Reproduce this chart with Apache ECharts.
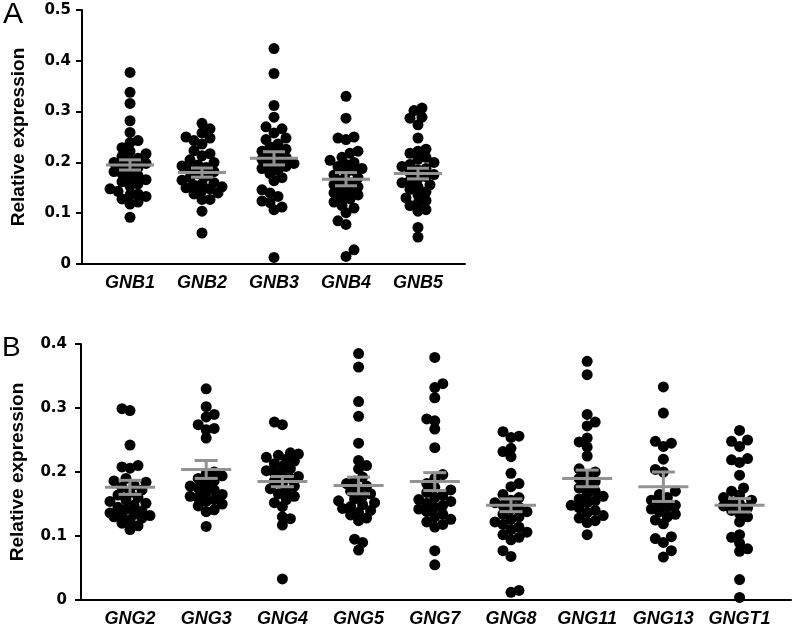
<!DOCTYPE html>
<html><head><meta charset="utf-8">
<script src="https://cdn.jsdelivr.net/npm/echarts@6/dist/echarts.min.js"></script>
<style>html,body{margin:0;padding:0;background:#fff}#c{width:794px;height:629px}</style>
</head><body><div id="c"></div>
<script>
// ---------- Panel A data ----------
const categoriesA = ['GNB1', 'GNB2', 'GNB3', 'GNB4', 'GNB5'];
const gnb1 = [0.377, 0.338, 0.316, 0.282, 0.259, 0.243, 0.239, 0.229, 0.222, 0.217, 0.212, 0.208, 0.205, 0.2, 0.198, 0.194, 0.19, 0.186, 0.182, 0.178, 0.174, 0.17, 0.166, 0.162, 0.158, 0.153, 0.148, 0.143, 0.138, 0.136, 0.133, 0.128, 0.122, 0.118, 0.092];
const gnb2 = [0.277, 0.266, 0.258, 0.25, 0.248, 0.243, 0.236, 0.223, 0.217, 0.213, 0.205, 0.2, 0.195, 0.193, 0.19, 0.186, 0.182, 0.178, 0.173, 0.17, 0.165, 0.16, 0.158, 0.155, 0.152, 0.15, 0.148, 0.145, 0.14, 0.138, 0.127, 0.127, 0.104, 0.061];
const gnb3 = [0.424, 0.375, 0.312, 0.289, 0.27, 0.266, 0.258, 0.248, 0.245, 0.236, 0.231, 0.226, 0.222, 0.218, 0.214, 0.21, 0.206, 0.202, 0.198, 0.195, 0.192, 0.188, 0.184, 0.178, 0.17, 0.164, 0.146, 0.14, 0.133, 0.124, 0.121, 0.112, 0.107, 0.013];
const gnb4 = [0.33, 0.287, 0.25, 0.248, 0.245, 0.222, 0.218, 0.21, 0.204, 0.2, 0.196, 0.192, 0.188, 0.184, 0.18, 0.175, 0.17, 0.165, 0.16, 0.156, 0.152, 0.148, 0.144, 0.14, 0.136, 0.132, 0.128, 0.122, 0.115, 0.11, 0.101, 0.085, 0.078, 0.028, 0.015];
const gnb5 = [0.307, 0.302, 0.289, 0.287, 0.274, 0.248, 0.226, 0.222, 0.218, 0.21, 0.206, 0.2, 0.196, 0.192, 0.188, 0.185, 0.18, 0.176, 0.172, 0.168, 0.164, 0.16, 0.156, 0.152, 0.147, 0.142, 0.136, 0.13, 0.125, 0.12, 0.115, 0.107, 0.104, 0.072, 0.053];
const meanA = [0.195, 0.180, 0.208, 0.167, 0.178];
const semA = [0.010, 0.009, 0.013, 0.013, 0.0105];
const yMaxA = 0.5;

// ---------- Panel B data ----------
const categoriesB = ['GNG2', 'GNG3', 'GNG4', 'GNG5', 'GNG7', 'GNG8', 'GNG11', 'GNG13', 'GNGT1'];
const gng2 = [0.299, 0.296, 0.242, 0.21, 0.208, 0.206, 0.19, 0.186, 0.184, 0.18, 0.176, 0.172, 0.168, 0.164, 0.16, 0.157, 0.154, 0.151, 0.148, 0.145, 0.142, 0.139, 0.136, 0.134, 0.133, 0.132, 0.13, 0.128, 0.125, 0.12, 0.116, 0.11];
const gng3 = [0.33, 0.302, 0.29, 0.286, 0.274, 0.268, 0.266, 0.253, 0.2, 0.197, 0.194, 0.19, 0.186, 0.182, 0.178, 0.175, 0.172, 0.168, 0.165, 0.162, 0.16, 0.157, 0.154, 0.15, 0.147, 0.141, 0.138, 0.115];
const gng4 = [0.278, 0.274, 0.23, 0.228, 0.226, 0.223, 0.22, 0.217, 0.213, 0.209, 0.205, 0.202, 0.199, 0.196, 0.193, 0.19, 0.186, 0.182, 0.178, 0.174, 0.17, 0.166, 0.162, 0.157, 0.152, 0.146, 0.13, 0.127, 0.117, 0.033];
const gng5 = [0.385, 0.364, 0.31, 0.287, 0.245, 0.218, 0.21, 0.205, 0.192, 0.186, 0.182, 0.178, 0.174, 0.17, 0.166, 0.162, 0.158, 0.155, 0.152, 0.149, 0.146, 0.143, 0.14, 0.137, 0.133, 0.128, 0.124, 0.095, 0.09, 0.078];
const gng7 = [0.379, 0.338, 0.332, 0.316, 0.283, 0.28, 0.267, 0.238, 0.196, 0.19, 0.182, 0.176, 0.172, 0.168, 0.164, 0.16, 0.157, 0.154, 0.151, 0.148, 0.145, 0.142, 0.138, 0.134, 0.13, 0.126, 0.122, 0.118, 0.114, 0.077, 0.055];
const gng8 = [0.263, 0.256, 0.254, 0.237, 0.232, 0.224, 0.198, 0.182, 0.177, 0.165, 0.16, 0.156, 0.152, 0.148, 0.145, 0.142, 0.138, 0.134, 0.13, 0.126, 0.122, 0.118, 0.114, 0.11, 0.106, 0.102, 0.098, 0.094, 0.077, 0.068, 0.015, 0.012];
const gng11 = [0.373, 0.352, 0.29, 0.278, 0.272, 0.253, 0.247, 0.239, 0.225, 0.205, 0.2, 0.196, 0.19, 0.185, 0.18, 0.175, 0.17, 0.166, 0.162, 0.158, 0.155, 0.152, 0.148, 0.144, 0.14, 0.136, 0.132, 0.128, 0.124, 0.121, 0.102];
const gng13 = [0.333, 0.292, 0.248, 0.245, 0.24, 0.22, 0.204, 0.2, 0.17, 0.165, 0.16, 0.156, 0.152, 0.148, 0.145, 0.142, 0.138, 0.134, 0.13, 0.125, 0.119, 0.099, 0.096, 0.09, 0.077, 0.067];
const gngt1 = [0.265, 0.25, 0.248, 0.24, 0.221, 0.219, 0.215, 0.195, 0.175, 0.17, 0.164, 0.16, 0.156, 0.153, 0.15, 0.147, 0.144, 0.14, 0.135, 0.13, 0.122, 0.102, 0.098, 0.089, 0.08, 0.076, 0.032, 0.004];
const meanB = [0.176, 0.204, 0.185, 0.179, 0.185, 0.148, 0.190, 0.177, 0.148];
const semB = [0.011, 0.014, 0.008, 0.013, 0.014, 0.010, 0.013, 0.023, 0.0105];
const yMaxB = 0.4;

const valuesA = [gnb1, gnb2, gnb3, gnb4, gnb5];
const valuesB = [gng2, gng3, gng4, gng5, gng7, gng8, gng11, gng13, gngt1];

// ---------- chart ----------
const chart = echarts.init(document.getElementById('c'), null, {renderer: 'canvas'});
const LBL = 'Liberation Sans, Arial, sans-serif';
const TICK = 'DejaVu Sans, sans-serif';

function xAxisDef(gridIndex, cats, min, max, margin) {
  return {
    type: 'value', gridIndex, min, max,
    axisLine: {show: true, onZero: false, lineStyle: {color: '#000', width: 2}},
    axisTick: {show: false},
    splitLine: {show: false},
    axisLabel: {
      show: true, margin,
      customValues: cats.map((c, i) => i + 1),
      formatter: v => cats[Math.round(v) - 1] || '',
      fontFamily: LBL, fontWeight: 'bold', fontStyle: 'italic', fontSize: 18, color: '#000'
    }
  };
}
function yAxisDef(gridIndex, max, margin) {
  return {
    type: 'value', gridIndex, min: 0, max, interval: 0.1,
    name: 'Relative expression', nameLocation: 'middle', nameGap: 54, nameRotate: 90,
    nameTextStyle: {fontFamily: LBL, fontWeight: 'bold', fontSize: 19, color: '#000'},
    axisLine: {show: true, onZero: false, lineStyle: {color: '#000', width: 2}},
    axisTick: {show: true, length: 6, lineStyle: {color: '#000', width: 2}},
    splitLine: {show: false},
    axisLabel: {margin, fontFamily: TICK, fontWeight: 'bold', fontSize: 15, color: '#000',
      formatter: v => v === 0 ? '0' : v.toFixed(1)}
  };
}

const base = {
  animation: false,
  backgroundColor: '#fff',
  grid: [
    {left: 82, top: 10, width: 383, height: 254},
    {left: 81, top: 344, width: 710, height: 256}
  ],
  xAxis: [
    xAxisDef(0, categoriesA, 0.333, 5.653, 10),
    xAxisDef(1, categoriesB, 0.357, 9.675, 10)
  ],
  yAxis: [
    yAxisDef(0, yMaxA, 11),
    yAxisDef(1, yMaxB, 14)
  ],
  graphic: [
    {type: 'text', left: 3, top: 0, style: {text: 'A', font: '30px ' + LBL, fill: '#000'}},
    {type: 'text', left: 2, top: 334, style: {text: 'B', font: '28px ' + LBL, fill: '#000'}}
  ],
  series: []
};
chart.setOption(base);

// beeswarm offsets (pixel space) computed from the values via the axis scales,
// capped to a maximum half-width (points may overlap when crowded)
function swarm(pys, D, step, maxOff) {
  const order = pys.map((y, i) => i).sort((a, b) => pys[b] - pys[a]);
  const placed = [], xs = new Array(pys.length);
  const kmax = Math.floor(maxOff / step);
  let flip = false;
  for (const i of order) {
    const y = pys[i];
    let best = 0, bestD = -1, found = null;
    for (let k = 0; k <= kmax && found === null; k++) {
      const cands = k === 0 ? [0] : (flip ? [-k * step, k * step] : [k * step, -k * step]);
      for (const c of cands) {
        let md = Infinity;
        for (const p of placed) {
          const d = Math.hypot(p.x - c, p.y - y);
          if (d < md) md = d;
        }
        if (md >= D) { found = c; break; }
        if (md > bestD) { bestD = md; best = c; }
      }
    }
    const x = found !== null ? found : best;
    xs[i] = x; placed.push({x, y});
    if (x !== 0) flip = !flip;
  }
  return xs;
}

function buildPoints(idx, groups) {
  const p0 = chart.convertToPixel({xAxisIndex: idx}, 0);
  const p1 = chart.convertToPixel({xAxisIndex: idx}, 1);
  const ppu = p1 - p0;
  const pts = [];
  groups.forEach((vals, g) => {
    const pys = vals.map(v => chart.convertToPixel({yAxisIndex: idx}, v));
    const dx = swarm(pys, 8, 4, 20);
    vals.forEach((v, i) => pts.push([g + 1 + dx[i] / ppu, v]));
  });
  return pts;
}

function meanSeries(idx, means, sems, hw, cw) {
  return {
    type: 'custom', xAxisIndex: idx, yAxisIndex: idx, z: 10,
    data: means.map((m, i) => [i + 1, m, sems[i]]),
    renderItem: (params, api) => {
      const x = api.value(0), m = api.value(1), s = api.value(2);
      const c = api.coord([x, m]), t = api.coord([x, m + s]), b = api.coord([x, m - s]);
      const st = {stroke: '#929292', lineWidth: 3};
      return {type: 'group', children: [
        {type: 'line', shape: {x1: c[0] - hw, y1: c[1], x2: c[0] + hw, y2: c[1]}, style: st},
        {type: 'line', shape: {x1: c[0], y1: t[1], x2: c[0], y2: b[1]}, style: st},
        {type: 'line', shape: {x1: c[0] - cw, y1: t[1], x2: c[0] + cw, y2: t[1]}, style: st},
        {type: 'line', shape: {x1: c[0] - cw, y1: b[1], x2: c[0] + cw, y2: b[1]}, style: st}
      ]};
    }
  };
}

chart.setOption({
  series: [
    {type: 'scatter', xAxisIndex: 0, yAxisIndex: 0, symbolSize: 11, itemStyle: {color: '#000', opacity: 1}, data: buildPoints(0, valuesA)},
    {type: 'scatter', xAxisIndex: 1, yAxisIndex: 1, symbolSize: 11, itemStyle: {color: '#000', opacity: 1}, data: buildPoints(1, valuesB)},
    meanSeries(0, meanA, semA, 24, 11),
    meanSeries(1, meanB, semB, 25, 11.5)
  ]
});
</script></body></html>
